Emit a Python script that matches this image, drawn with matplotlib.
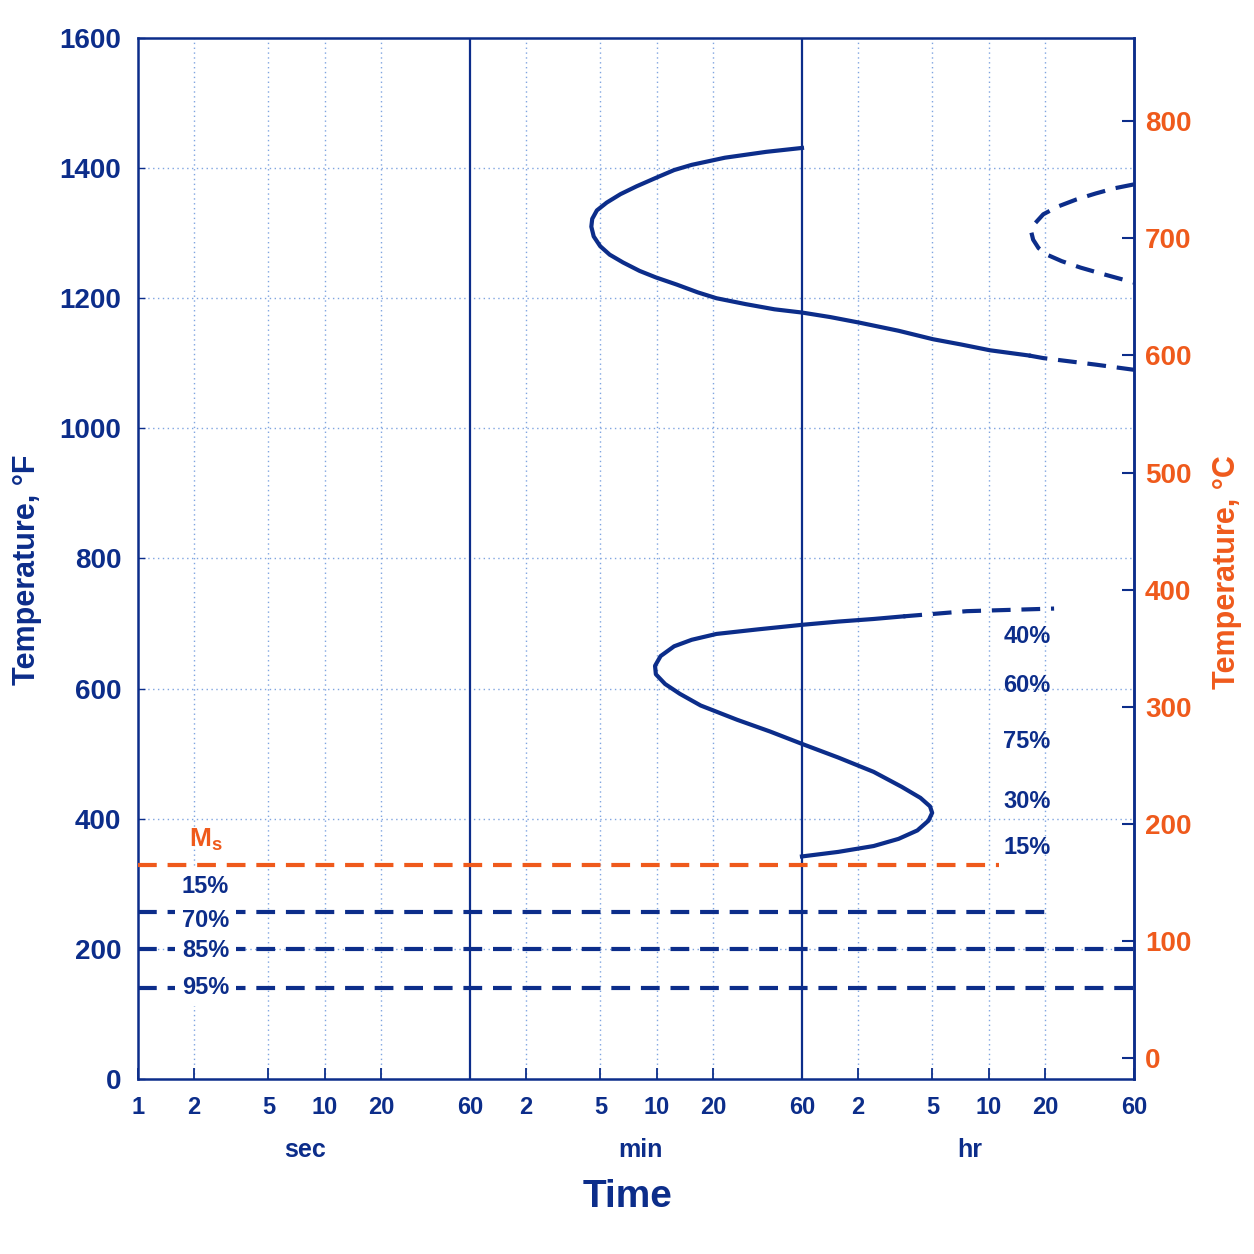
import numpy as np
import matplotlib
matplotlib.use('Agg')
import matplotlib.pyplot as plt

plt.rcParams['font.family'] = ['Liberation Sans', 'DejaVu Sans']
plt.rcParams['font.weight'] = 'bold'

NAVY = '#0c2d8a'
ORANGE = '#ef5a1c'
GRID = '#7fa4e0'

# time ticks (seconds) and their labels
xticks = [1, 2, 5, 10, 20, 60, 120, 300, 600, 1200, 3600, 7200, 18000, 36000, 72000, 216000]
xlabels = ['1', '2', '5', '10', '20', '60', '2', '5', '10', '20', '60', '2', '5', '10', '20', '60']
yticks_F = [0, 200, 400, 600, 800, 1000, 1200, 1400, 1600]
yticks_C = [0, 100, 200, 300, 400, 500, 600, 700, 800]

# upper (pearlite) C-curve, solid part (time in s, temp in F)
upper_t = [3600, 2316, 1392, 924, 744, 594, 468, 384, 324, 287, 271, 268, 276, 299, 336, 396,
           486, 594, 768, 996, 1254, 1794, 2562, 3600, 5112, 7452, 11844, 18108, 25524, 36576, 59040]
upper_F = [1431, 1425, 1416, 1405, 1397, 1385, 1372, 1360, 1347, 1335, 1322, 1310, 1295, 1280, 1267, 1255,
           1242, 1232, 1221, 1209, 1200, 1191, 1183, 1178, 1171, 1162, 1150, 1137, 1129, 1120, 1112]
# its dashed continuation
upper_tail_t = [59040, 70560, 134280, 216000]
upper_tail_F = [1112, 1108, 1098, 1090]

# dashed finish curve at long times
finish_t = [216000, 169920, 134640, 106560, 84600, 70560, 63720, 60840, 62280, 66600, 73800,
            88560, 111960, 147960, 216000]
finish_F = [1375, 1369, 1361, 1352, 1341, 1329, 1315, 1302, 1290, 1277, 1267,
            1257, 1247, 1237, 1224]

# lower (bainite) curve, solid part
lower_t = [12564, 8712, 5634, 3600, 2088, 1254, 924, 744, 630, 588, 594, 666, 798, 1032, 1620, 2430,
           3600, 5634, 8712, 12312, 15516, 17460, 17928, 17136, 14940, 11844, 8712, 5634, 3600]
lower_F = [711, 707, 703, 698, 691, 684, 675, 665, 650, 635, 622, 607, 592, 574, 552, 534,
           515, 494, 472, 449, 432, 419, 409, 397, 382, 369, 358, 349, 342]
lower_tail_t = [12564, 27504, 80640]
lower_tail_F = [711, 719, 723]

# horizontal lines: Ms and martensite percentages
ms_F = 329
ms_end = 40700
mart_F = [256, 200, 140]
mart_end = [80600, 216000, 216000]

# labels
left_labels = ['15%', '70%', '85%', '95%']
left_labels_F = [296, 244, 198, 140]
right_labels = ['40%', '60%', '75%', '30%', '15%']
right_labels_F = [680, 605, 519, 427, 355]

fig = plt.figure(figsize=(12.54, 12.54), dpi=100)
ax = fig.add_axes([0.110, 0.1396, 0.7943, 0.8301])

ax.set_xscale('log')
ax.set_xlim(1, 216000)
ax.set_ylim(0, 1600)

# grid
for t in xticks[1:-1]:
    if t in (60, 3600):
        ax.axvline(t, color=NAVY, lw=1.6, zorder=2)
    else:
        ax.axvline(t, color=GRID, lw=1.0, ls=(0, (1, 2.5)), zorder=1)
for f in yticks_F[1:-1]:
    ax.axhline(f, color=GRID, lw=1.0, ls=(0, (1, 2.5)), zorder=1)

dash = (0, (4.5, 2.6))
ax.plot(upper_t, upper_F, color=NAVY, lw=3, zorder=3)
ax.plot(upper_tail_t, upper_tail_F, color=NAVY, lw=3, ls=dash, zorder=3)
ax.plot(finish_t, finish_F, color=NAVY, lw=3, ls=dash, zorder=3)
ax.plot(lower_t, lower_F, color=NAVY, lw=3, zorder=3)
ax.plot(lower_tail_t, lower_tail_F, color=NAVY, lw=3, ls=dash, zorder=3)

ax.plot([1, ms_end], [ms_F, ms_F], color=ORANGE, lw=3, ls=dash, zorder=3)
for f, te in zip(mart_F, mart_end):
    ax.plot([1, te], [f, f], color=NAVY, lw=3, ls=dash, zorder=3)

ax.text(2.3, 367, r'M$_\mathregular{s}$', color=ORANGE, fontsize=19, ha='center', va='center', zorder=5)
for lab, f in zip(left_labels, left_labels_F):
    ax.text(2.3, f, lab, color=NAVY, fontsize=17, ha='center', va='center', zorder=5,
            bbox=dict(fc='white', ec='none', pad=5))
for lab, f in zip(right_labels, right_labels_F):
    ax.text(12 * 3600, f, lab, color=NAVY, fontsize=17, ha='left', va='center', zorder=5)

# axes styling
ax.set_xticks(xticks)
ax.set_xticklabels(xlabels)
ax.minorticks_off()
ax.set_yticks(yticks_F)
ax.tick_params(axis='x', direction='in', length=8, width=1.3, color=NAVY, labelcolor=NAVY,
               labelsize=17, pad=12)
ax.tick_params(axis='y', direction='in', length=5, width=1.0, color=NAVY, labelcolor=NAVY,
               labelsize=20, pad=12)
for s in ax.spines.values():
    s.set_color(NAVY)
    s.set_linewidth(1.8)

sec = ax.secondary_yaxis('right', functions=(lambda f: (f - 32) / 1.8, lambda c: c * 1.8 + 32))
sec.set_yticks(yticks_C)
sec.tick_params(direction='in', length=9, width=1.5, color=NAVY, labelcolor=ORANGE,
                labelsize=20, pad=8)
sec.spines['right'].set_color(NAVY)
sec.spines['right'].set_linewidth(1.8)

ax.text(0.168, -0.068, 'sec', transform=ax.transAxes, color=NAVY, fontsize=18, ha='center', va='center')
ax.text(0.504, -0.068, 'min', transform=ax.transAxes, color=NAVY, fontsize=18, ha='center', va='center')
ax.text(0.835, -0.068, 'hr', transform=ax.transAxes, color=NAVY, fontsize=18, ha='center', va='center')
ax.text(0.492, -0.1135, 'Time', transform=ax.transAxes, color=NAVY, fontsize=28, ha='center', va='center')

fig.text(27 / 1254, 1 - 570 / 1254, 'Temperature, °F', rotation=90, color=NAVY, fontsize=22,
         ha='center', va='center')
fig.text(1227 / 1254, 1 - 572 / 1254, 'Temperature, °C', rotation=90, color=ORANGE, fontsize=22,
         ha='center', va='center')

fig.savefig('out.png', dpi=100, facecolor='white')
